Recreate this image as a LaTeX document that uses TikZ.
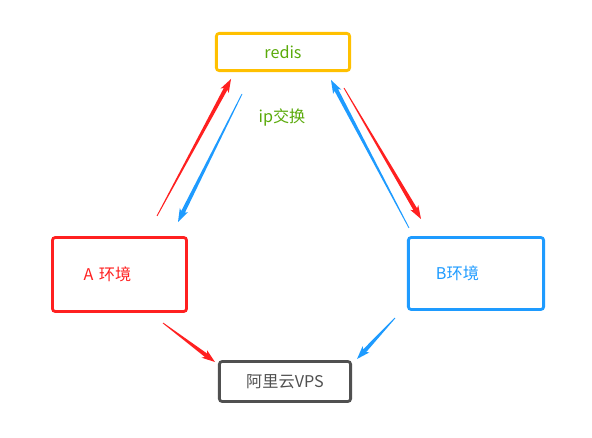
\documentclass[tikz,border=0pt]{standalone}
\usepackage{fontspec}
\newfontfamily\cjk{Noto Sans CJK SC}
\usepackage{tikz}
\usetikzlibrary{positioning,calc}
\definecolor{redisorange}{RGB}{255, 192, 0}
\definecolor{envred}{RGB}{255, 32, 32}
\definecolor{envblue}{RGB}{30, 155, 255}
\definecolor{vpsgray}{RGB}{80, 80, 80}
\definecolor{ipgreen}{RGB}{90, 170, 10}

\begin{document}
\begin{tikzpicture}[
    x=0.025cm, y=-0.025cm,
    box/.style={rectangle, draw, line width=2pt, rounded corners=2pt, font=\cjk\fontsize{11.5}{13}\selectfont},
    envbox/.style={box, align=left, minimum height=1.85cm},
    taper/.style={to path={let \p1=(\tikztostart), \p2=(\tikztotarget), \n1={atan2(\y2-\y1,\x2-\x1)} in
        ($(\p1)+(\n1+90:0.3pt)$) -- ($(\p2)+(\n1+180:8pt)+(\n1+90:1.45pt)$) -- ($(\p2)+(\n1+180:9.5pt)+(\n1+90:3.3pt)$) -- (\p2)
        -- ($(\p2)+(\n1+180:9.5pt)+(\n1-90:3.3pt)$) -- ($(\p2)+(\n1+180:8pt)+(\n1-90:1.45pt)$) -- ($(\p1)+(\n1-90:0.3pt)$) -- cycle}}
]
\useasboundingbox (0, 0) rectangle (592, 438);

% Boxes
\node[box, draw=redisorange, text=ipgreen, minimum width=3.33cm, minimum height=0.93cm] (redis) at (283, 52) {redis};
\node[envbox, draw=envred, text=envred, inner xsep=0.78cm, text width=1.79cm] (envA) at (119.5, 274.5) {A 环境};
\node[envbox, draw=envblue, text=envblue, inner xsep=0.69cm, text width=2.0cm, minimum height=1.8cm] (envB) at (476, 273.5) {B环境};
\node[box, draw=vpsgray, text=vpsgray, minimum width=3.28cm, minimum height=1.0cm] (vps) at (285, 381.5) {阿里云VPS};

% Label
\node[font=\cjk\fontsize{11.5}{13}\selectfont, text=ipgreen] (ip) at (282, 117) {ip交换};

% Arrow ends
\coordinate (ra1) at (157, 216);
\coordinate (ra2) at (231, 79);
\coordinate (ba1) at (242, 94);
\coordinate (ba2) at (178, 222);
\coordinate (bb1) at (409, 228);
\coordinate (bb2) at (331, 80);
\coordinate (rb1) at (344, 88);
\coordinate (rb2) at (421, 219);
\coordinate (rv1) at (163, 323);
\coordinate (rv2) at (215, 362);
\coordinate (bv1) at (395, 318);
\coordinate (bv2) at (357, 359);

% A <-> redis
\fill[envred] (ra1) to[taper] (ra2);
\fill[envblue] (ba1) to[taper] (ba2);

% B <-> redis
\fill[envblue] (bb1) to[taper] (bb2);
\fill[envred] (rb1) to[taper] (rb2);

% to VPS
\fill[envred] (rv1) to[taper] (rv2);
\fill[envblue] (bv1) to[taper] (bv2);

\end{tikzpicture}
\end{document}
